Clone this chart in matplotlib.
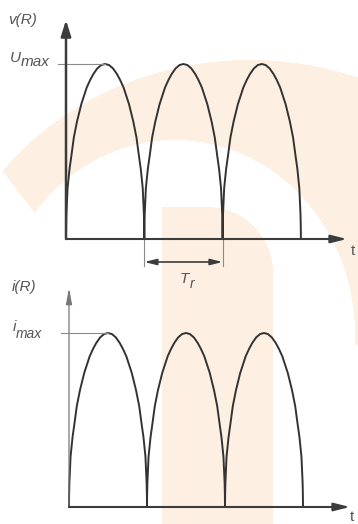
import numpy as np
import matplotlib.pyplot as plt
from matplotlib.transforms import Affine2D

# Halbwelle (Zeit als Anteil der Halbperiode, Wert als Anteil vom Maximum)
t_halbwelle = [0, 0.0015, 0.005, 0.02, 0.045, 0.07, 0.10, 0.14, 0.195, 0.265, 0.31, 0.35,
               0.40, 0.45, 0.5, 0.55, 0.60, 0.65, 0.69, 0.735, 0.805, 0.86, 0.90, 0.93,
               0.955, 0.98, 0.995, 0.9985, 1.0]
wert_halbwelle = [0, 0.07, 0.14, 0.29, 0.40, 0.48, 0.58, 0.67, 0.77, 0.866, 0.91, 0.943,
                  0.975, 0.994, 1.0, 0.994, 0.975, 0.943, 0.91, 0.866, 0.77, 0.67, 0.58, 0.48,
                  0.40, 0.29, 0.14, 0.07, 0]
anzahl_halbwellen = 3

# Beschriftungen
titel = ["v(R)", "i(R)"]
max_zeichen = ["U", "i"]
max_index = "max"
periode_zeichen = ["T", "r"]
zeit_zeichen = "t"

# Kurve aus den Halbwellen zusammensetzen
t = np.concatenate([np.array(t_halbwelle) + k for k in range(anzahl_halbwellen)])
wert = np.concatenate([np.array(wert_halbwelle) for k in range(anzahl_halbwellen)])

W, H = 358, 524
fig = plt.figure(figsize=(W / 100, H / 100), dpi=100)
pix = Affine2D().scale(1 / W, -1 / H).translate(0, 1) + fig.transFigure

# Wasserzeichen im Hintergrund
yy, xx = np.mgrid[0:H, 0:W] + 0.5
aussen = ((xx - 250) / 310) ** 2 + ((yy - 340) / 280) ** 2 < 1
innen = ((xx - 175) / 180) ** 2 + ((yy - 335) / 195) ** 2 < 1
schnitt = xx * 35 - (yy - 168) * 27 > 0
bogen = aussen & ~innen & schnitt & (yy < 345)
ecke = (xx > 207) & (yy < 273) & ((xx - 207) ** 2 + (yy - 273) ** 2 > 66 ** 2)
stamm = (xx >= 162) & (xx <= 273) & (yy >= 207) & ~ecke
maske = (bogen | stamm).astype(float)
bild = np.ones((H, W, 4))
bild[..., :3] = np.array([253, 239, 226]) / 255
bild[..., 3] = maske
bg = fig.add_axes([0, 0, 1, 1])
bg.imshow(bild, extent=(0, W, H, 0), interpolation='bilinear')
bg.set_xlim(0, W)
bg.set_ylim(H, 0)
bg.axis('off')

# Zwei Diagramme: Ursprung und Einheiten in Pixeln
panels = [
    dict(ox=66, oy=239, ux=78.3, uy=175, y_tip=20, x_tip=347,
         y_lw=1.8, y_col='#3c3c3c', y_head=0.25),
    dict(ox=69, oy=507, ux=78.0, uy=174, y_tip=288, x_tip=350,
         y_lw=0.9, y_col='#777777', y_head=0.15),
]

for i, p in enumerate(panels):
    ax = fig.add_axes([0, 0, 1, 1])
    ax.patch.set_alpha(0)
    ax.axis('off')
    ax.set_xlim(-p['ox'] / p['ux'], (W - p['ox']) / p['ux'])
    ax.set_ylim((p['oy'] - H) / p['uy'], p['oy'] / p['uy'])

    # Achsen mit Pfeilen
    ax.annotate('', xy=(0, (p['oy'] - p['y_tip']) / p['uy']), xytext=(0, 0),
                arrowprops=dict(arrowstyle='-|>,head_length=0.8,head_width=%s' % p['y_head'],
                                lw=p['y_lw'], color=p['y_col'], mutation_scale=12,
                                shrinkA=0, shrinkB=0))
    ax.annotate('', xy=((p['x_tip'] - p['ox']) / p['ux'], 0), xytext=(0, 0),
                arrowprops=dict(arrowstyle='-|>,head_length=0.8,head_width=0.2',
                                lw=1.5, color='#3c3c3c', mutation_scale=12,
                                shrinkA=0, shrinkB=0))

    # Kurve
    ax.plot(t, wert, color='#333333', lw=1.4, solid_joinstyle='round')

    # Hilfslinie zum Maximum
    ax.plot([-8 / p['ux'], 0.5], [1, 1], color='#8a8a8a', lw=0.8)

    # Texte
    oy = p['oy']
    peak = oy - p['uy']
    ax.text(8 + 4 * i, oy - 215 if i == 0 else oy - 216, titel[i], transform=pix,
            fontsize=11, style='italic', color='#555555', family='Liberation Sans',
            va='baseline', ha='left')
    ax.text(10 + 3 * i, peak - 2, max_zeichen[i], transform=pix,
            fontsize=11, style='italic', color='#555555', family='Liberation Sans',
            va='baseline', ha='left')
    ax.text(21 if i == 0 else 16, peak + 2 + 3 * i, max_index, transform=pix,
            fontsize=11 if i == 0 else 10, style='italic', color='#555555',
            family='Liberation Sans', va='baseline', ha='left')
    ax.text(351 if i == 0 else 350, oy + 16 if i == 0 else oy + 14, zeit_zeichen,
            transform=pix, fontsize=11, color='#555555', family='Liberation Sans',
            va='baseline', ha='left')

    if i == 0:
        # Periodendauer T_r
        y_pfeil = -(262 - oy) / p['uy']
        for k in (1, 2):
            ax.plot([k, k], [0, -(266 - oy) / p['uy']], color='#8a8a8a', lw=0.8)
        ax.annotate('', xy=(2, y_pfeil), xytext=(1, y_pfeil),
                    arrowprops=dict(arrowstyle='<|-|>,head_length=0.6,head_width=0.15',
                                    lw=1.2, color='#3c3c3c', mutation_scale=12,
                                    shrinkA=0, shrinkB=0))
        ax.text(180, 283, periode_zeichen[0], transform=pix, fontsize=11,
                style='italic', color='#555555', family='Liberation Sans',
                va='baseline', ha='left')
        ax.text(190, 288, periode_zeichen[1], transform=pix, fontsize=10,
                style='italic', color='#555555', family='Liberation Sans',
                va='baseline', ha='left')

fig.savefig('out.png', dpi=100)
